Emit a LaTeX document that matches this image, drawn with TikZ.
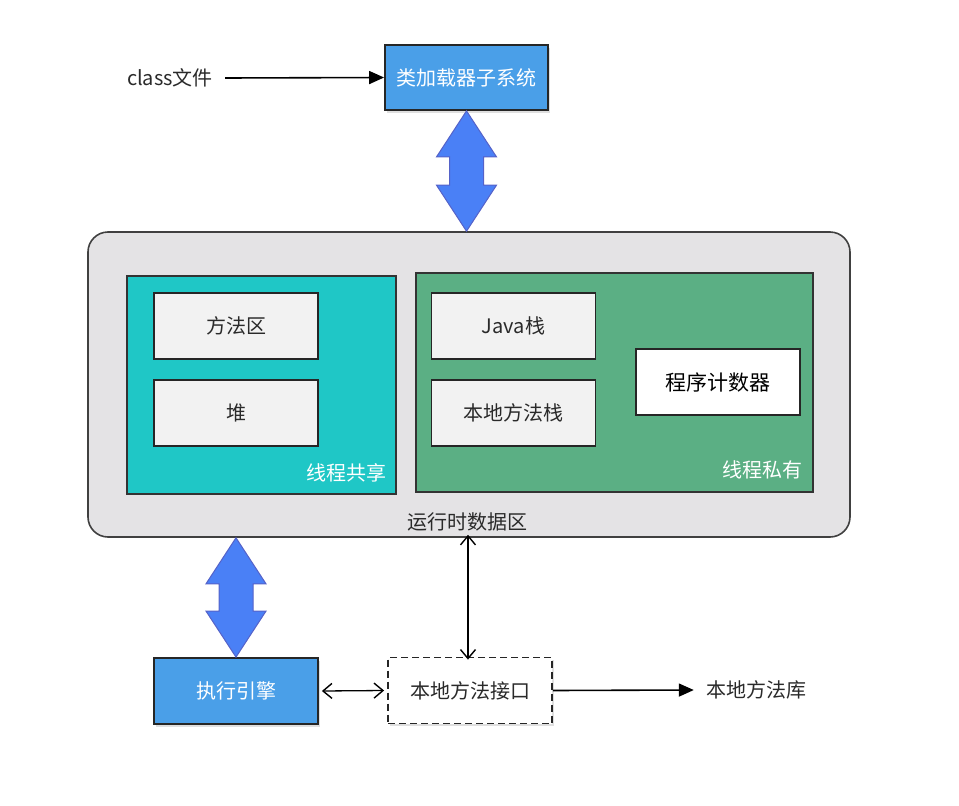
\documentclass[tikz,border=0pt]{standalone}
\usepackage{fontspec}
\setmainfont{Noto Sans CJK SC}
\usetikzlibrary{arrows.meta,shadows,calc}
\definecolor{boxblue}{HTML}{4A9FE8}
\definecolor{arrblue}{HTML}{4A80F6}
\definecolor{arredge}{HTML}{5562C8}
\definecolor{teal}{HTML}{1FC7C6}
\definecolor{pgreen}{HTML}{5BAF84}
\definecolor{cgray}{HTML}{E4E3E5}
\definecolor{ibox}{HTML}{F2F2F2}
\definecolor{txt}{HTML}{2A2A2A}
\tikzset{
  base/.style={font=\fontsize{20}{24}\selectfont, text=txt},
  bluebox/.style={base, draw=black!85, line width=1.8pt, fill=boxblue, text=white, minimum width=163pt, minimum height=65pt, drop shadow={opacity=0.25, shadow xshift=1.5pt, shadow yshift=-2.5pt}},
  innerbox/.style={base, draw=black!85, line width=1.8pt, fill=ibox, minimum width=164pt, minimum height=66pt},
  panel/.style={draw=black!80, line width=1.8pt},
  plain/.style={base, inner sep=2pt},
  conn/.style={line width=1.6pt, draw=black},
  barbtip/.tip={Straight Barb[length=9pt,width=15pt,line width=1.4pt]},
  tritip/.tip={Triangle[length=15pt,width=13pt]},
}
\newcommand{\blockarrow}[2]{%
  \path let \p1=(#1), \p2=(#2) in
    [fill=arrblue, draw=arredge, line width=1pt]
    (\x1,\y1) -- (\x1+30pt,\y1-46pt) -- (\x1+17pt,\y1-46pt) -- (\x1+17pt,\y2+46pt)
    -- (\x1+30pt,\y2+46pt) -- (\x1,\y2) -- (\x1-30pt,\y2+46pt) -- (\x1-17pt,\y2+46pt)
    -- (\x1-17pt,\y1-46pt) -- (\x1-30pt,\y1-46pt) -- cycle;%
}
\begin{document}
\begin{tikzpicture}[x=1pt,y=-1pt]
\useasboundingbox (0,0) rectangle (959,806);

% runtime data area
\node[draw=black!75, line width=1.6pt, fill=cgray, rounded corners=20pt, minimum width=762pt, minimum height=305pt] (rt) at (469,384.5) {};
\node[plain] (rtlabel) at (467,522) {运行时数据区};

% shared panel
\node[panel, fill=teal, minimum width=269pt, minimum height=218pt] (shared) at (261.5,385) {};
\node[plain, text=white, anchor=south east] (sharedlabel) at (389,484) {线程共享};
\node[innerbox] (method) at (236,326) {方法区};
\node[innerbox] (heap) at (236,413) {堆};

% private panel
\node[panel, fill=pgreen, minimum width=397pt, minimum height=219pt] (private) at (614.5,382.5) {};
\node[plain, text=white, anchor=south east] (privlabel) at (805,481) {线程私有};
\node[innerbox] (jstack) at (513.5,326) {Java栈};
\node[innerbox] (nstack) at (513.5,413) {本地方法栈};
\node[innerbox, fill=white, text=black, font=\fontsize{21}{25}\selectfont] (pc) at (718,382) {程序计数器};

% loader
\node[bluebox] (loader) at (466.5,77.5) {类加载器子系统};
\node[plain] (cls) at (170,78) {class文件};
\draw[conn, -tritip] ($(cls.east)+(10pt,0)$) -- (loader.west);

% engine and native
\node[bluebox, minimum width=164pt, minimum height=66pt] (engine) at (236,691) {执行引擎};
\node[base, draw=black!85, line width=1.8pt, dashed, dash pattern=on 7pt off 4pt, fill=white, minimum width=164pt, minimum height=66pt, drop shadow={opacity=0.25, shadow xshift=1.5pt, shadow yshift=-2.5pt}] (nif) at (470,690.5) {本地方法接口};
\node[plain] (lib) at (756,690) {本地方法库};

% block arrows
\coordinate (rttop) at (loader.south |- rt.north);
\blockarrow{loader.south}{rttop}
\coordinate (rtbot) at (engine.north |- rt.south);
\blockarrow{rtbot}{engine.north}

% connectors
\coordinate (nifup) at ($(nif.north |- rt.south)+(-2pt,3pt)$);
\coordinate (nifdn) at ($(nif.north)+(-2pt,-3pt)$);
\draw[conn, line width=1.3pt, barbtip-barbtip] (nifup) -- (nifdn);
\draw[conn, line width=1.3pt, barbtip-barbtip] ($(engine.east)+(3pt,0)$) -- ($(nif.west)+(-3pt,0)$);
\draw[conn, -tritip] (nif.east) -- ($(lib.west)+(-10pt,0)$);
\end{tikzpicture}
\end{document}
